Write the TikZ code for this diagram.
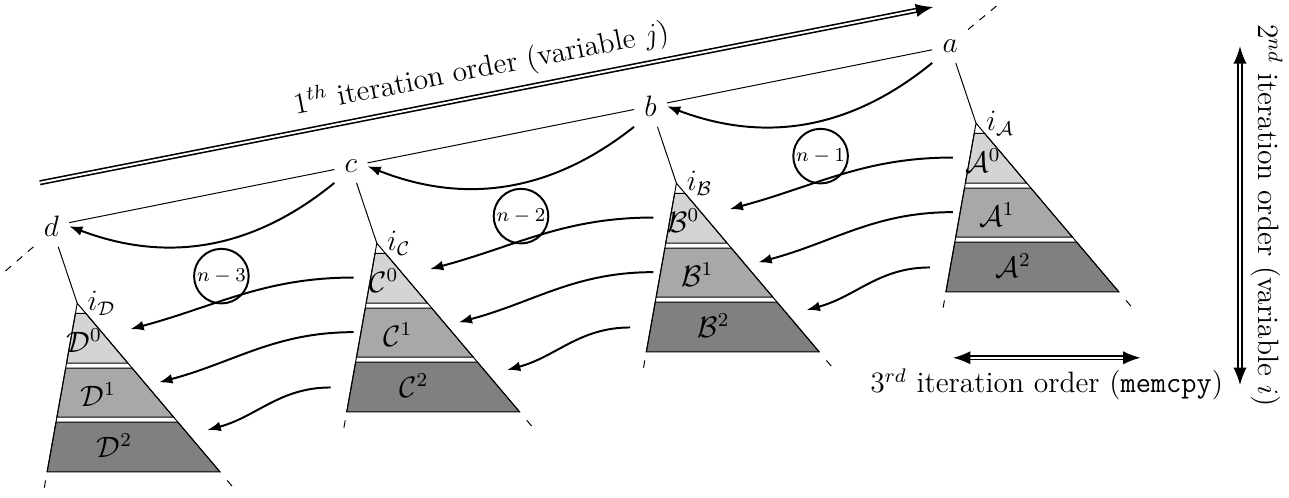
\documentclass[tikz,border=0pt,12pt]{standalone}
\usepackage{amsmath}
\usepackage{tikz}
\usetikzlibrary{positioning, calc, arrows.meta}

\begin{document}
\begin{tikzpicture}[
		% --- ESTILOS ---
		gap_arrow/.style={
			-{Latex[length=1.9mm, width=1.4mm]}, 
			thick
		},
		order_arrow/.style={
			double, 
			double distance=0.8pt, 
			line width=0.65pt,
			>={Latex[length=2.5mm, width=1.9mm]}
		},
		count_circle/.style={
			circle, 
			draw, 
			thick, 
			minimum size=0.78cm, 
			inner sep=0pt, 
			font=\scriptsize
		}
		]
		
		\useasboundingbox (0,0) rectangle (18.41,7.1);
		
		% --- SUBARBOLES A, B, C, D ---
		\foreach \n/\l/\k in {A/a/0, B/b/1, C/c/2, D/d/3} {
			\coordinate (top\n) at ($(13.94,5.34)+\k*(-4.279,-0.857)$);
			\coordinate (left\n) at ($(top\n)+(-0.43,-2.41)$);
			\coordinate (right\n) at ($(top\n)+(2.04,-2.41)$);
			
			% bloques 0, 1, 2
			\foreach \ua/\ub/\fc/\m/\lx/\ly in {0.06/0.355/black!17/0/0.1/-0.53, 0.385/0.675/black!34/1/0.3/-1.31, 0.705/1/black!50/2/0.53/-2.03} {
				\filldraw[fill=\fc, thin] ($(top\n)!\ua!(left\n)$) -- ($(top\n)!\ub!(left\n)$) -- ($(top\n)!\ub!(right\n)$) -- ($(top\n)!\ua!(right\n)$) -- cycle;
				\node (\n\m) at ($(top\n)+(\lx,\ly)$) {$\mathcal{\n}^{\m}$};
			}
			\draw[thin] (left\n) -- (top\n) -- (right\n);
			\draw[thin, dashed] ($(top\n)!1.05!(left\n)$) -- ($(top\n)!1.1!(left\n)$);
			\draw[thin, dashed] ($(top\n)!1.05!(right\n)$) -- ($(top\n)!1.1!(right\n)$);
			
			% etiqueta del nodo y del indice
			\node (\l) at ($(top\n)+(-0.37,1.1)$) {$\l$};
			\node[right] (i\n) at (top\n) {$i_{\mathcal{\n}}$};
			\draw[thin] (\l) -- (top\n);
			
			% puntos de salida y de llegada
			\coordinate (\n-out0) at ($(top\n)+(-0.33,-0.49)$);
			\coordinate (\n-out1) at ($(top\n)+(-0.33,-1.27)$);
			\coordinate (\n-out2) at ($(top\n)+(-0.66,-2.06)$);
			\coordinate (\n-in0) at ($(top\n)+(0.76,-0.37)$);
			\coordinate (\n-in1) at ($(top\n)+(1.17,-1.13)$);
			\coordinate (\n-in2) at ($(top\n)+(1.86,-1.81)$);
		}
		
		% --- LINEAS ENTRE a, b, c, d ---
		\foreach \u/\v in {a/b, b/c, c/d} {
			\draw[thin] (\u) -- (\v);
			\draw[gap_arrow] (\u.south west) to[bend left=30] (\v.east);
		}
		\coordinate (a_more) at ($(a.north east)+(0.46,0.38)$);
		\coordinate (d_more) at ($(d.south west)+(-0.44,-0.38)$);
		\draw[thin, dashed] (a.north east) -- (a_more);
		\draw[thin, dashed] (d.south west) -- (d_more);
		
		% --- COPIAS ENTRE BLOQUES ---
		\foreach \s/\t/\c in {A/B/1, B/C/2, C/D/3} {
			\foreach \m in {0,1,2}
				\draw[gap_arrow] (\s-out\m) to[out=180, in=15] (\t-in\m);
			\node[count_circle] (cnt\c) at ($(top\s)+(-2.22,-0.47)$) {$n-\c$};
		}
		
		% --- ORDENES DE ITERACION ---
		\coordinate (j_start) at (0.57,4.49);
		\coordinate (j_end) at (13.33,7.0);
		\draw[order_arrow, ->] (j_start) -- node[midway, above, sloped] {$1^{th}$ iteration order (variable $j$)} (j_end);
		
		\coordinate (i_top) at (17.71,6.44);
		\coordinate (i_bottom) at (17.71,1.6);
		\draw[order_arrow, <->] (i_top) -- node[midway, above, rotate=-90] {$2^{nd}$ iteration order (variable $i$)} (i_bottom);
		
		\coordinate (m_left) at (13.61,1.99);
		\coordinate (m_right) at (16.29,1.99);
		\draw[order_arrow, <->] (m_left) -- node[midway, below] {$3^{rd}$ iteration order (\texttt{memcpy})} (m_right);
		
	\end{tikzpicture}
\end{document}
